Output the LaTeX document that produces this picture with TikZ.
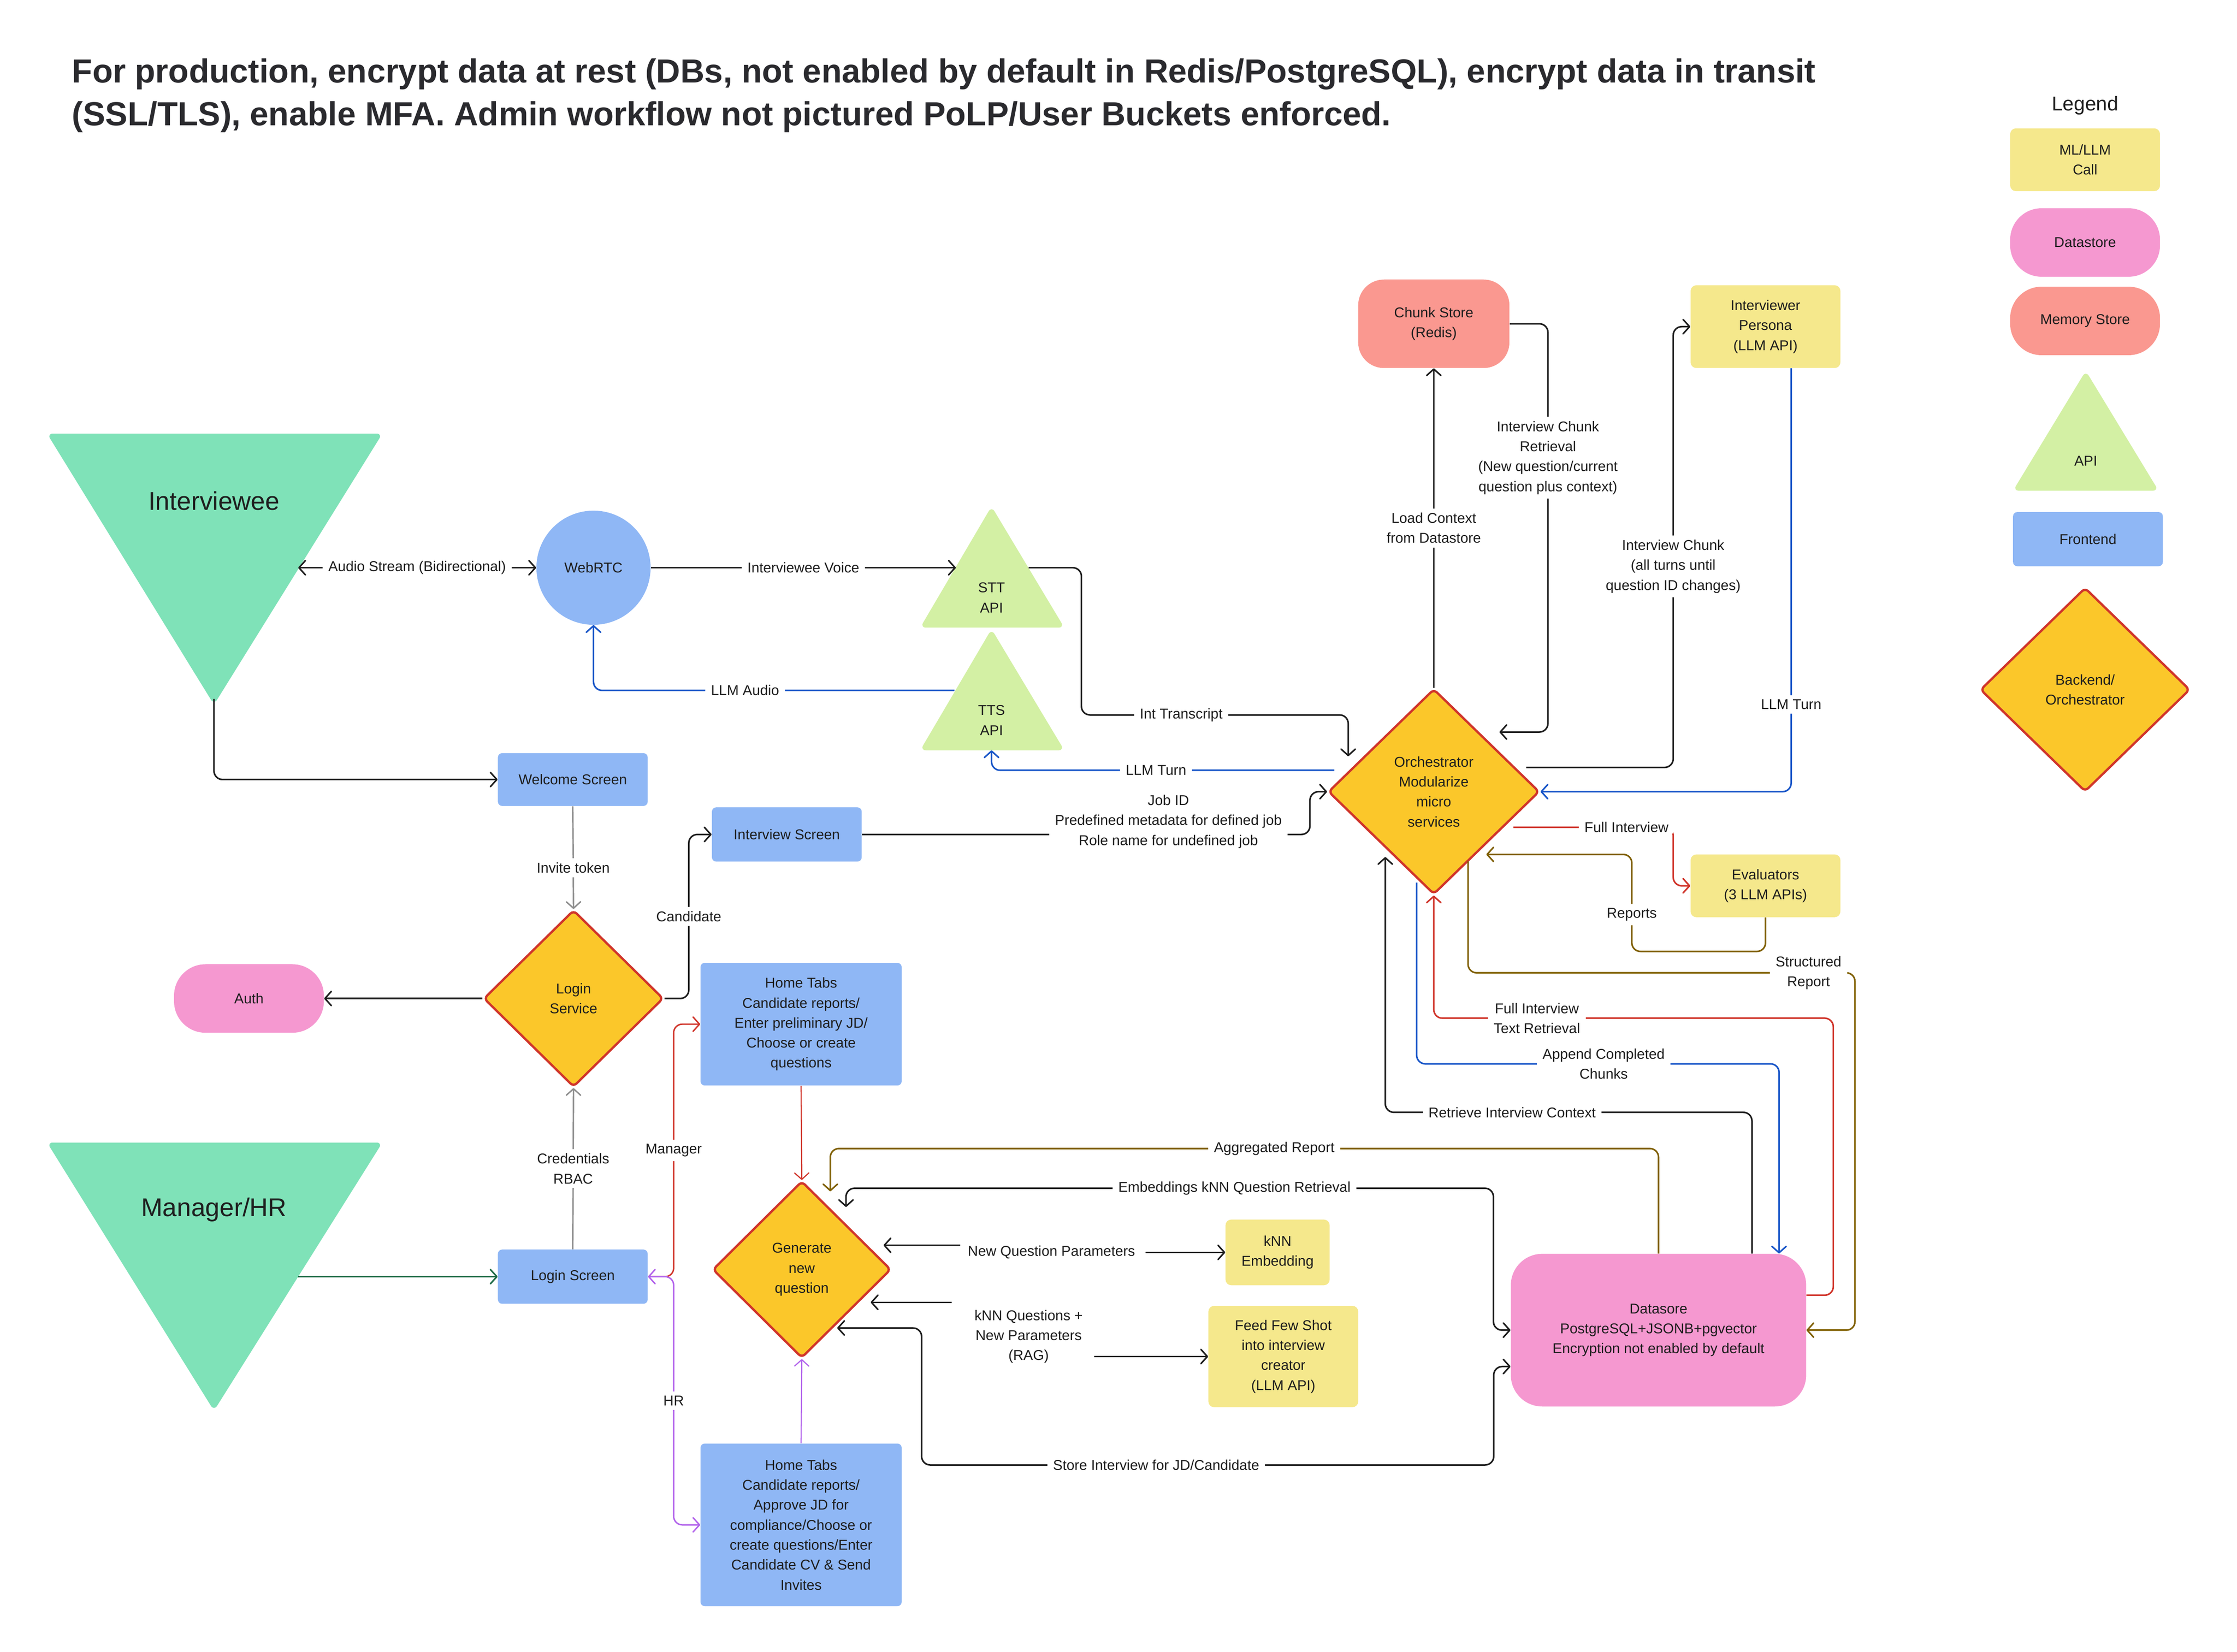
\documentclass[tikz,border=0pt]{standalone}
\usepackage{fontspec}
\setmainfont{Liberation Sans}
\usetikzlibrary{arrows.meta,shapes.geometric,calc}
\definecolor{txt}{HTML}{1E1E1E}
\definecolor{ttl}{HTML}{2A2A2E}
\definecolor{mint}{HTML}{7FE2B8}
\definecolor{apig}{HTML}{D3F0A4}
\definecolor{feblue}{HTML}{8FB7F5}
\definecolor{mlyel}{HTML}{F5E88C}
\definecolor{dspink}{HTML}{F598D0}
\definecolor{memsal}{HTML}{FA9890}
\definecolor{gold}{HTML}{FBC72A}
\definecolor{redst}{HTML}{D0352B}
\definecolor{lnblack}{HTML}{1E1E1E}
\definecolor{lnblue}{HTML}{1956C8}
\definecolor{lnred}{HTML}{D0352B}
\definecolor{lnolive}{HTML}{806000}
\definecolor{lnpurple}{HTML}{B263EB}
\definecolor{lngray}{HTML}{8C8C8C}
\definecolor{lngreen}{HTML}{1E6B46}
\begin{document}
\begin{tikzpicture}[x=1pt,y=-1pt,
  >={Straight Barb[length=4.5pt,width=10pt,round]},
  every node/.style={text=txt,font=\fontsize{10}{14}\selectfont},
  box/.style={rectangle,align=center,inner sep=2pt},
  fe/.style={box,fill=feblue,rounded corners=3pt},
  ml/.style={box,fill=mlyel,rounded corners=4pt},
  dsn/.style={box,fill=dspink},
  mem/.style={box,fill=memsal},
  dia/.style={diamond,aspect=1,fill=gold,draw=redst,line width=1.6pt,rounded corners=3pt,align=center,inner sep=0pt},
  lbl/.style={fill=white,align=center,inner xsep=4pt,inner ysep=3pt},
  cn/.style={line width=1.1pt,rounded corners=6pt,line join=round},
  bk/.style={cn,draw=lnblack},
  bl/.style={cn,draw=lnblue},
  rd/.style={cn,draw=lnred},
  ol/.style={cn,draw=lnolive},
  pu/.style={cn,draw=lnpurple,line width=1pt},
  gr/.style={cn,draw=lngray,line width=1pt},
  gn/.style={cn,draw=lngreen},
  rdt/.style={cn,draw=lnred,line width=0.8pt},
  put/.style={cn,draw=lnpurple,line width=0.8pt}]
\useasboundingbox (0,0) rectangle (1568,1158);
\fill[white] (0,0) rectangle (1568,1158);

% title
\node[anchor=west,align=left,text=ttl,font=\fontsize{23.4}{30}\selectfont\bfseries] (title) at (47,67)
 {For production, encrypt data at rest (DBs, not enabled by default in Redis/PostgreSQL), encrypt data in transit\\(SSL/TLS), enable MFA. Admin workflow not pictured PoLP/User Buckets enforced.};

% actors
\fill[mint,rounded corners=4pt] (33,304) -- (268,304) -- (150,494) -- cycle;
\node[font=\fontsize{18}{20}\selectfont] (iv) at (150,351) {Interviewee};
\coordinate (ivR) at (209,398);
\coordinate (ivB) at (150,490);
\fill[mint,rounded corners=4pt] (33,801) -- (268,801) -- (150,989) -- cycle;
\node[font=\fontsize{18}{20}\selectfont] (mh) at (150,848) {Manager/HR};
\coordinate (mhR) at (209,895);

% APIs
\fill[apig,rounded corners=4pt] (695,355) -- (746,440) -- (645,440) -- cycle;
\node[align=center] (stt) at (695,419) {STT\\API};
\coordinate (sttL) at (670,398);
\coordinate (sttR) at (721,398);
\fill[apig,rounded corners=4pt] (695,441) -- (746,526) -- (645,526) -- cycle;
\node[align=center] (tts) at (695,505) {TTS\\API};
\coordinate (ttsL) at (669,484);
\coordinate (ttsB) at (695,526);

% frontend
\node[circle,fill=feblue,minimum size=80pt,inner sep=0pt] (webrtc) at (416,398) {WebRTC};
\node[fe,minimum width=105pt,minimum height=37pt] (welcome) at (401.5,546.5) {Welcome Screen};
\node[fe,minimum width=105pt,minimum height=38pt] (intscr) at (551.5,585) {Interview Screen};
\node[fe,minimum width=105pt,minimum height=38pt] (loginscr) at (401.5,895) {Login Screen};
\node[fe,minimum width=141pt,minimum height=86pt] (hm1) at (561.5,718) {Home Tabs\\Candidate reports/\\Enter preliminary JD/\\Choose or create\\questions};
\node[fe,minimum width=141pt,minimum height=114pt] (hm2) at (561.5,1069) {Home Tabs\\Candidate reports/\\Approve JD for\\compliance/Choose or\\create questions/Enter\\Candidate CV \& Send\\Invites};

% stores
\node[dsn,minimum width=105pt,minimum height=48pt,rounded corners=22pt] (auth) at (174.5,700) {Auth};
\node[dsn,minimum width=207pt,minimum height=107pt,rounded corners=22pt] (ds) at (1162.5,932.5) {Datasore\\PostgreSQL+JSONB+pgvector\\Encryption not enabled by default};
\node[mem,minimum width=106pt,minimum height=62pt,rounded corners=18pt] (chunk) at (1005,227) {Chunk Store\\(Redis)};

% backend
\node[dia,minimum width=126pt,minimum height=124pt] (login) at (402,700) {Login\\Service};
\node[dia,minimum width=125pt,minimum height=124pt] (gen) at (562,890) {Generate\\new\\question};
\node[dia,minimum width=148pt,minimum height=144pt] (orch) at (1005,555) {Orchestrator\\Modularize\\micro\\services};

% ML
\node[ml,minimum width=73pt,minimum height=46pt] (knn) at (895.5,878) {kNN\\Embedding};
\node[ml,minimum width=105pt,minimum height=71pt] (feed) at (899.5,951) {Feed Few Shot\\into interview\\creator\\(LLM API)};
\node[ml,minimum width=105pt,minimum height=58pt] (persona) at (1237.5,229) {Interviewer\\Persona\\(LLM API)};
\node[ml,minimum width=105pt,minimum height=44pt] (eval) at (1237.5,621) {Evaluators\\(3 LLM APIs)};

% legend
\node[font=\fontsize{14}{16}\selectfont] (legend) at (1461.5,74) {Legend};
\node[ml,minimum width=105pt,minimum height=44pt] (lml) at (1461.5,112) {ML/LLM\\Call};
\node[dsn,minimum width=105pt,minimum height=48pt,rounded corners=22pt] (lds) at (1461.5,170) {Datastore};
\node[mem,minimum width=105pt,minimum height=48pt,rounded corners=22pt] (lmem) at (1461.5,225) {Memory Store};
\fill[apig,rounded corners=4pt] (1462,260) -- (1513,344) -- (1411,344) -- cycle;
\node (lapi) at (1462,323) {API};
\node[fe,minimum width=105pt,minimum height=38pt] (lfe) at (1463.5,378) {Frontend};
\node[dia,minimum width=147pt,minimum height=143pt] (lbo) at (1461.5,483.5) {Backend/\\Orchestrator};

% ---------- connectors ----------
\draw[bk,<->] (ivR) -- node[lbl]{Audio Stream (Bidirectional)} (webrtc.west);
\draw[bk,->] (webrtc.east) -- node[lbl]{Interviewee Voice} (sttL);
\draw[bk,->] (sttR) -| ($(orch.north)+(-247,19)$) -| node[lbl,pos=0.187]{Int Transcript} ($(orch.north)+(-60,48)$);
\draw[bl,->] (ttsL) -| node[lbl,pos=0.29]{LLM Audio} (webrtc.south);
\draw[bl,->] ($(orch.west)+(5,-15)$) -| node[lbl,pos=0.26]{LLM Turn} (ttsB);
\draw[bk,->] (ivB) |- (welcome.west);
\draw[gr,->] (welcome.south) -- node[lbl,pos=0.6]{Invite token} (login.north);
\draw[bk,->] (login.west) -- (auth.east);
\draw[bk,->] (login.east) -- ++(17,0) |- node[lbl,pos=0.25]{Candidate} (intscr.west);
\draw[bk,->] (intscr.east) -| node[lbl,pos=0.342,yshift=9pt]{Job ID\\Predefined metadata for defined job\\Role name for undefined job} ($(orch.west)+(-12,0)$) -- (orch.west);
\draw[gr,->] (loginscr.north) -- node[lbl]{Credentials\\RBAC} (login.south);
\draw[gn,->] (mhR) -- (loginscr.west);
\draw[rd,line width=1pt,->] (loginscr.east) -- ++(18,0) |- node[lbl,pos=0.25]{Manager} (hm1.west);
\draw[pu,<->] (loginscr.east) -- ++(18,0) |- node[lbl,pos=0.25]{HR} (hm2.west);
\draw[rdt,->] (hm1.south) -- (gen.north);
\draw[put,->] (hm2.north) -- (gen.south);
\draw[ol,->] (ds.north) |- node[lbl,pos=0.732]{Aggregated Report} ($(gen.north)+(20,-22)$) -- ($(gen.north)+(20,8)$);
\draw[bk,<->] ($(gen.north)+(31,19)$) |- node[lbl,pos=0.8]{Embeddings kNN Question Retrieval} ($(ds.west)+(-12,-99.5)$) |- (ds.west);
\node[lbl] (nqp) at (737,878) {New Question Parameters};
\draw[bk,->] ($(nqp)+(-64,-5)$) -- ($(gen.east)+(-6,-17)$);
\draw[bk,->] ($(nqp)+(66,0)$) -- (knn.west);
\node[lbl] (kq) at (721,937) {kNN Questions +\\New Parameters\\(RAG)};
\draw[bk,->] ($(kq)+(-54,-24)$) -- ($(gen.east)+(-15,23)$);
\draw[bk,->] ($(kq)+(46,14)$) -- (feed.west);
\draw[bk,<->] ($(gen.east)+(-38.5,41)$) -- (646,931) -- (646,1027) -- node[lbl,pos=0.41]{Store Interview for JD/Candidate} (1047,1027) -- (1047,958) -- ($(ds.west)+(0,25.5)$);
\draw[bk,->] (orch.north) -- node[lbl]{Load Context\\from Datastore} (chunk.south);
\draw[bk,->] (chunk.east) -| node[lbl,pos=0.664]{Interview Chunk\\Retrieval\\(New question/current\\question plus context)} ($(orch.north)+(80,31)$) -- ($(orch.north)+(46,31)$);
\draw[bk,->] ($(orch.east)+(-10,-17)$) -| node[lbl,pos=0.728]{Interview Chunk\\(all turns until\\question ID changes)} ($(persona.west)+(-12,0)$) -- (persona.west);
\draw[bl,->] ($(persona.south)+(18,0)$) |- node[lbl,pos=0.397]{LLM Turn} (orch.east);
\draw[rd,->] ($(orch.east)+(-19,25)$) -| node[lbl,pos=0.354]{Full Interview} ($(eval.west)+(-12,0)$) -- (eval.west);
\draw[ol,->] (eval.south) |- ($(orch.east)+(64,112)$) |- node[lbl,pos=0.19]{Reports} ($(orch.east)+(-38,44)$);
\draw[ol,->] ($(orch.south)+(24,-24)$) |- node[lbl,pos=0.94]{Structured\\Report} ($(ds.east)+(34,-250.5)$) |- (ds.east);
\draw[rd,->] ($(ds.east)+(0,-24.5)$) -| ($(orch.south)+(280,86)$) -| node[lbl,pos=0.371]{Full Interview\\Text Retrieval} (orch.south);
\draw[bl,->] ($(orch.south)+(-12,-9)$) |- node[lbl,pos=0.758]{Append Completed\\Chunks} ($(ds.north)+(84.5,-133)$) -- ($(ds.north)+(84.5,0)$);
\draw[bk,->] ($(ds.north)+(65.5,0)$) |- node[lbl,pos=0.827]{Retrieve Interview Context} ($(orch.south)+(-34,152)$) -- ($(orch.south)+(-34,-27)$);
\end{tikzpicture}
\end{document}
